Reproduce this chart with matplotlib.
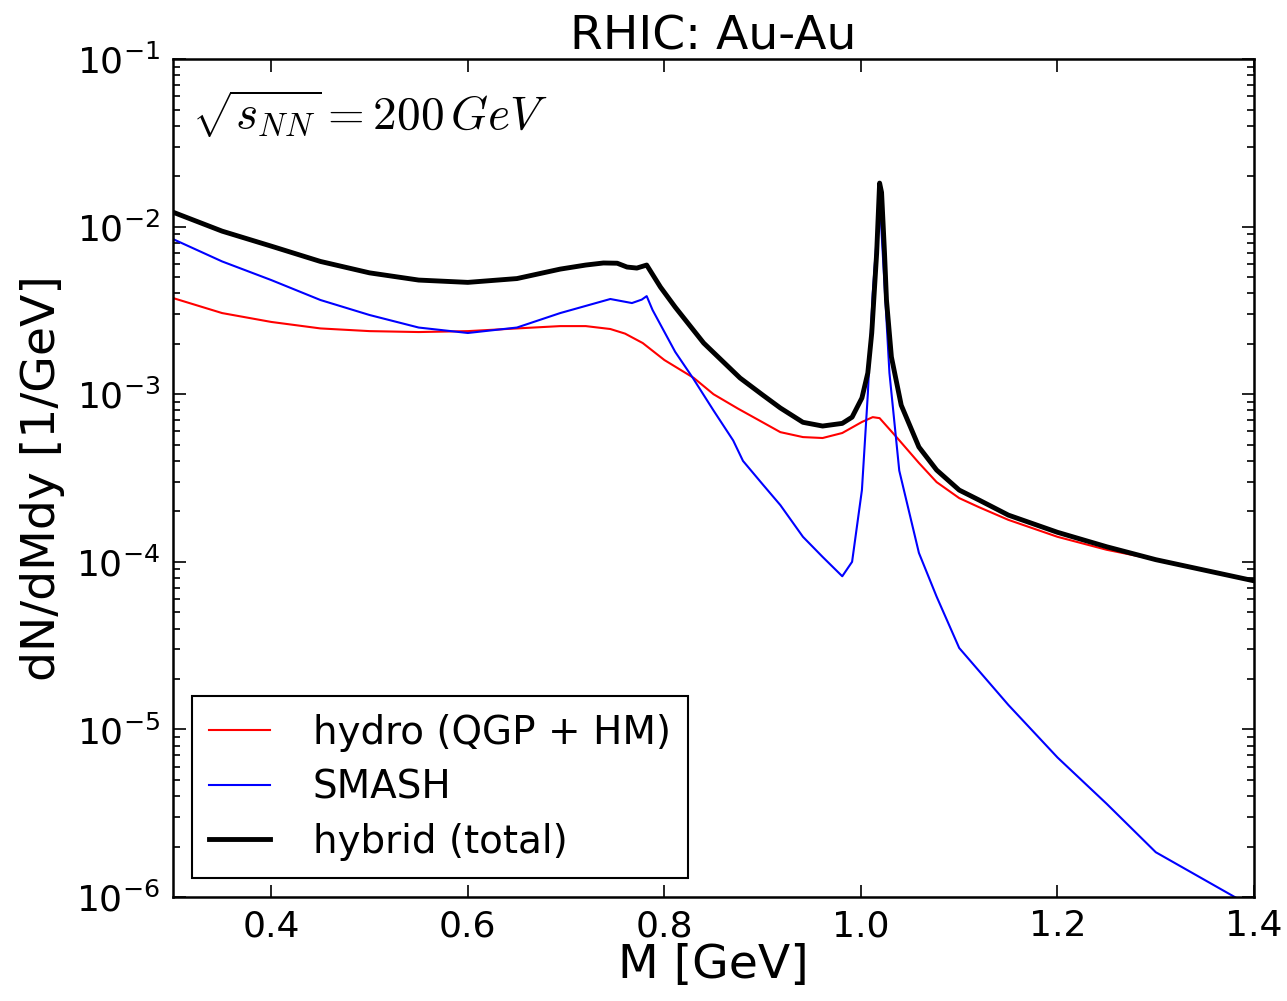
import numpy as np
from matplotlib import pyplot as plt
from matplotlib.ticker import LogLocator

# hybrid (total)
m_tot = [0.30, 0.35, 0.40, 0.45, 0.50, 0.55, 0.60, 0.65, 0.694, 0.72, 0.738, 0.752, 0.762, 0.772,
         0.782, 0.796, 0.811, 0.84, 0.877, 0.90, 0.918, 0.941, 0.961, 0.981, 0.991, 1.001, 1.007,
         1.011, 1.016, 1.019, 1.021, 1.024, 1.026, 1.031, 1.041, 1.059, 1.077, 1.10, 1.12, 1.15,
         1.20, 1.25, 1.30, 1.40]
y_tot = [1.22e-2, 9.4e-3, 7.65e-3, 6.2e-3, 5.3e-3, 4.8e-3, 4.65e-3, 4.9e-3, 5.58e-3, 5.9e-3,
         6.07e-3, 6.05e-3, 5.74e-3, 5.66e-3, 5.9e-3, 4.36e-3, 3.31e-3, 2.02e-3, 1.25e-3, 9.9e-4,
         8.28e-4, 6.8e-4, 6.46e-4, 6.7e-4, 7.3e-4, 9.5e-4, 1.34e-3, 2.32e-3, 6.95e-3, 1.82e-2,
         1.6e-2, 6.95e-3, 3.65e-3, 1.67e-3, 8.6e-4, 4.84e-4, 3.53e-4, 2.68e-4, 2.34e-4, 1.9e-4,
         1.5e-4, 1.23e-4, 1.03e-4, 7.7e-5]

# hydro (QGP + HM)
m_hydro = [0.30, 0.35, 0.40, 0.45, 0.50, 0.55, 0.60, 0.65, 0.694, 0.72, 0.745, 0.76, 0.778,
           0.80, 0.83, 0.85, 0.875, 0.90, 0.918, 0.941, 0.961, 0.981, 1.001, 1.012, 1.019,
           1.037, 1.059, 1.077, 1.10, 1.12, 1.15, 1.20, 1.25, 1.30, 1.40]
y_hydro = [3.75e-3, 3.05e-3, 2.7e-3, 2.47e-3, 2.38e-3, 2.35e-3, 2.38e-3, 2.47e-3, 2.55e-3,
           2.55e-3, 2.45e-3, 2.3e-3, 2.02e-3, 1.6e-3, 1.25e-3, 1.0e-3, 8.2e-4, 6.8e-4, 5.94e-4,
           5.55e-4, 5.48e-4, 5.87e-4, 6.83e-4, 7.3e-4, 7.2e-4, 5.48e-4, 3.89e-4, 2.99e-4, 2.4e-4,
           2.12e-4, 1.78e-4, 1.41e-4, 1.18e-4, 1.03e-4, 7.7e-5]

# SMASH
m_smash = [0.30, 0.35, 0.40, 0.45, 0.50, 0.55, 0.60, 0.65, 0.694, 0.745, 0.767, 0.777, 0.782,
           0.788, 0.811, 0.829, 0.85, 0.87, 0.88, 0.90, 0.918, 0.941, 0.961, 0.981, 0.991, 1.001,
           1.007, 1.012, 1.019, 1.029, 1.039, 1.059, 1.077, 1.10, 1.15, 1.20, 1.25, 1.30, 1.40]
y_smash = [8.43e-3, 6.2e-3, 4.8e-3, 3.65e-3, 2.97e-3, 2.5e-3, 2.32e-3, 2.5e-3, 3.05e-3, 3.7e-3,
           3.5e-3, 3.67e-3, 3.85e-3, 3.18e-3, 1.79e-3, 1.25e-3, 8.0e-4, 5.3e-4, 4.0e-4, 2.9e-4,
           2.18e-4, 1.41e-4, 1.07e-4, 8.2e-5, 1.0e-4, 2.68e-4, 1.0e-3, 4.0e-3, 1.5e-2, 1.34e-3,
           3.5e-4, 1.13e-4, 6.2e-5, 3.06e-5, 1.4e-5, 6.8e-6, 3.6e-6, 1.85e-6, 8.6e-7]

fig = plt.figure(figsize=(12.87, 10.01), dpi=100)
ax = fig.add_axes([0.1344, 0.1039, 0.84, 0.8371])

ax.plot(m_hydro, y_hydro, color='red', linewidth=1.5, label='hydro (QGP + HM)')
ax.plot(m_smash, y_smash, color='blue', linewidth=1.5, label='SMASH')
ax.plot(m_tot, y_tot, color='black', linewidth=3.5, label='hybrid (total)')

ax.set_yscale('log')
ax.set_xlim(0.3, 1.4)
ax.set_ylim(1e-6, 1e-1)
ax.yaxis.set_minor_locator(LogLocator(base=10, subs=np.arange(2, 10), numticks=20))
ax.tick_params(which='both', direction='in', top=True, right=True, labelsize=26, width=1.2)
ax.tick_params(which='major', length=9, pad=9)
ax.tick_params(which='minor', length=5)
for s in ax.spines.values():
    s.set_linewidth(1.8)

ax.set_xlabel('M [GeV]', fontsize=34, labelpad=0)
ax.set_ylabel('dN/dMdy [1/GeV]', fontsize=34, labelpad=8)
ax.set_title('RHIC: Au-Au', fontsize=34, pad=4)

ax.text(0.018, 0.965, r'$\sqrt{s_{NN}} = 200\,GeV$', transform=ax.transAxes,
        fontsize=34, va='top', ha='left', math_fontfamily='cm')

leg = ax.legend(loc='lower left', fontsize=28, fancybox=False, framealpha=1,
                borderpad=0.45, handlelength=1.55, handletextpad=1.1, labelspacing=0.42,
                borderaxespad=0, bbox_to_anchor=(0.0176, 0.0225))
leg.get_frame().set_edgecolor('black')
leg.get_frame().set_linewidth(1.5)

fig.savefig('out.png', dpi=100)
